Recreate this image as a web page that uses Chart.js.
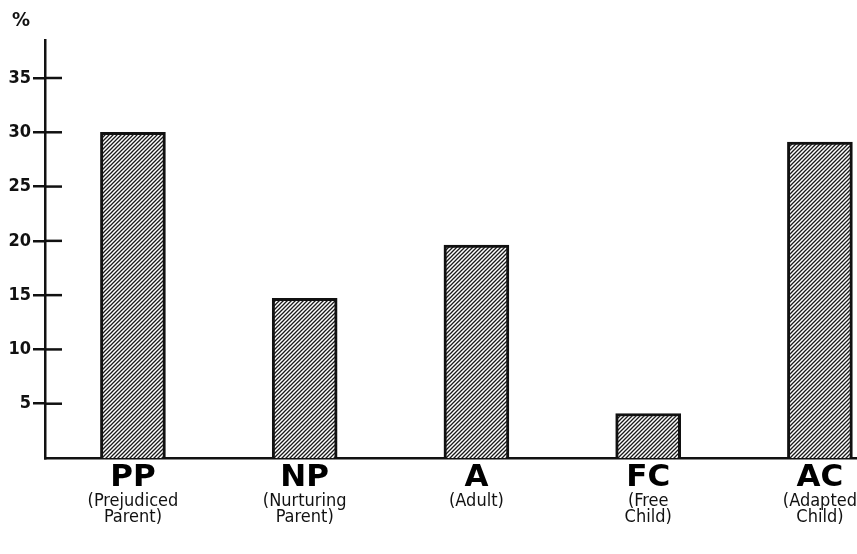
<!DOCTYPE html>
<html>
<head>
<meta charset="utf-8">
<script src="https://cdn.jsdelivr.net/npm/chart.js@4"></script>
<style>
  body { margin: 0; background: #fff; }
  #wrap { width: 857px; height: 554px; }
</style>
</head>
<body>
<div id="wrap"><canvas id="grafico"></canvas></div>
<script>
// dados do gráfico
const siglas = ["PP", "NP", "A", "FC", "AC"];
const nomes = [["(Prejudiced", "Parent)"], ["(Nurturing", "Parent)"], ["(Adult)"], ["(Free", "Child)"], ["(Adapted", "Child)"]];
const valores = [30, 14.7, 19.6, 4.1, 29.1];
const ticksY = [5, 10, 15, 20, 25, 30, 35];
const unidade = "%";

const fonteEstreita = "'DejaVu Sans Condensed', 'DejaVu Sans', sans-serif";

// hachura diagonal das barras
function criarHachura() {
    const c = document.createElement("canvas");
    c.width = 4; c.height = 4;
    const g = c.getContext("2d");
    g.fillStyle = "#fff";
    g.fillRect(0, 0, 4, 4);
    g.strokeStyle = "#1a1a1a";
    g.lineWidth = 1.3;
    g.beginPath();
    g.moveTo(-1, 5); g.lineTo(5, -1);
    g.moveTo(-1, 1); g.lineTo(1, -1);
    g.moveTo(3, 5); g.lineTo(5, 3);
    g.stroke();
    return g.createPattern(c, "repeat");
}

// traços do eixo y cruzando para dentro do gráfico + símbolo de %
const tracosY = {
    id: "tracosY",
    afterDatasetsDraw(chart) {
        const { ctx, chartArea, scales } = chart;
        ctx.save();
        ctx.strokeStyle = "#111";
        ctx.lineWidth = 2.5;
        scales.y.ticks.forEach(t => {
            const y = scales.y.getPixelForValue(t.value);
            ctx.beginPath();
            ctx.moveTo(chartArea.left, y);
            ctx.lineTo(chartArea.left + 17, y);
            ctx.stroke();
        });
        ctx.fillStyle = "#111";
        ctx.font = "bold condensed 20px " + fonteEstreita;
        ctx.textBaseline = "top";
        ctx.fillText(unidade, chartArea.left - 33, 11);
        ctx.restore();
    }
};

const indices = siglas.map((s, i) => i);
const xMin = -0.512, xMax = 4.215;

const ctx = document.getElementById("grafico").getContext("2d");
new Chart(ctx, {
    type: "bar",
    data: {
        datasets: [{
            data: indices.map(i => ({ x: i, y: valores[i] })),
            backgroundColor: criarHachura(),
            borderColor: "#111",
            borderWidth: 3,
            barThickness: 65,
            xAxisID: "x",
            yAxisID: "y"
        }]
    },
    options: {
        responsive: true,
        maintainAspectRatio: false,
        animation: false,
        layout: { padding: { left: 0, right: 0, top: 40, bottom: 0 } },
        plugins: {
            legend: { display: false },
            tooltip: { enabled: false }
        },
        scales: {
            x: {
                type: "linear",
                position: "bottom",
                weight: 0,
                offset: false,
                min: xMin, max: xMax,
                afterBuildTicks: s => { s.ticks = indices.map(v => ({ value: v })); },
                afterFit: s => { s.height = 28; },
                grid: { display: false },
                border: { display: true, color: "#111", width: 2.5 },
                ticks: {
                    autoSkip: false, maxRotation: 0, padding: -4,
                    color: "#000",
                    font: { family: "'DejaVu Sans', sans-serif", size: 31, weight: "bold", lineHeight: 1 },
                    callback: v => siglas[v]
                }
            },
            x2: {
                type: "linear",
                position: "bottom",
                weight: 1,
                offset: false,
                min: xMin, max: xMax,
                afterBuildTicks: s => { s.ticks = indices.map(v => ({ value: v })); },
                afterFit: s => { s.height = 68; },
                grid: { display: false },
                border: { display: false },
                ticks: {
                    autoSkip: false, maxRotation: 0, padding: 0,
                    color: "#111",
                    font: { family: fonteEstreita, size: 18, weight: "normal condensed", lineHeight: 0.85 },
                    callback: v => nomes[v]
                }
            },
            y: {
                min: 0, max: 38.5,
                afterBuildTicks: s => { s.ticks = ticksY.map(v => ({ value: v })); },
                afterFit: s => { s.width = 45; },
                grid: { drawOnChartArea: false, drawTicks: true, tickLength: 12, color: "#111", lineWidth: 2.5 },
                border: { display: true, color: "#111", width: 2.5 },
                ticks: {
                    padding: 2,
                    color: "#111",
                    font: { family: fonteEstreita, size: 18, weight: "bold condensed" }
                }
            }
        }
    },
    plugins: [tracosY]
});
</script>
</body>
</html>
